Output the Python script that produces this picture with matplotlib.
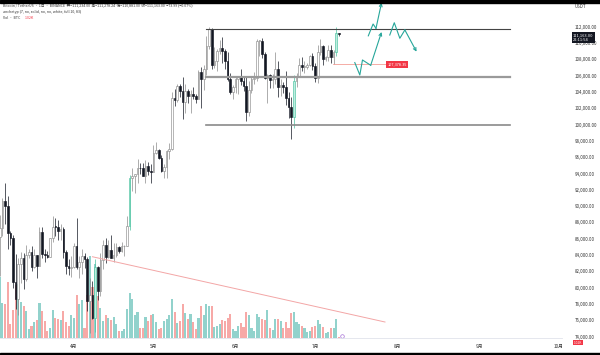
import numpy as np
import pandas as pd
import matplotlib
matplotlib.use('Agg')
import matplotlib.pyplot as plt
import matplotlib.transforms as mtransforms
from matplotlib.patches import Rectangle

plt.rcParams['font.family'] = ['Noto Sans CJK SC', 'DejaVu Sans']

# --- datos (velas diarias BTC/USDT, 4 mar - 10 jul) ---
start = '2025-03-04'
first_open = 86220
closes = [87280, 90600, 89960, 86740, 86150, 80730, 78600, 82930, 83700, 81100,
          83980, 84340, 82580, 84010, 82720, 86850, 84170, 84040, 83830, 86080,
          87500, 87420, 86900, 87230, 84350, 82650, 82390, 82550,
          85160, 82520, 83100, 83840, 83500, 78370, 79160, 76320, 82600, 79600,
          83400, 85280, 83760, 84590, 83650, 84030, 84950, 84470, 85060, 85170,
          87520, 93440, 93700, 93980, 94640, 94630, 93750, 94980, 94280, 94170,
          96490, 96910, 95950, 94310, 94750, 96820, 97030, 103240, 102970, 104700,
          104150, 102800, 104150, 103540, 103740, 103490, 103130, 106450, 105600, 106790,
          109650, 111700, 107300, 107800, 109000, 109440, 108980, 107800, 105640, 103980,
          104590,
          105640, 105830, 105400, 104700, 101500, 104300, 105600, 105730, 110260, 110260,
          108680, 105670, 106070, 105410, 105590, 106800, 104550, 104850, 104640, 103300,
          102120, 100960, 105400, 105900, 107290, 107040, 107100, 107350, 108380, 107140,
          105700, 108850, 109600, 107980, 108230, 109200, 108260, 108950, 111234, 111163]
highs = [88900, 91000, 92800, 91200, 86900, 86500, 84100, 83600, 84400, 84300,
         85300, 84700, 85100, 84750, 84050, 87450, 87450, 84800, 84550, 86100,
         88750, 88550, 88300, 87800, 87500, 84570, 83500, 83950,
         85500, 88500, 83900, 84720, 84250, 83800, 81250, 80850, 83580, 82700,
         84300, 85900, 86100, 85800, 86500, 85500, 85470, 85100, 85600, 85300,
         88850, 93800, 94700, 94000, 95750, 95300, 95350, 95600, 95450, 95200,
         97440, 97900, 96950, 96300, 95200, 96900, 97750, 104000, 104350, 104980,
         104960, 105820, 104950, 104350, 104200, 104550, 103700, 106660, 107100, 107320,
         110800, 111980, 111880, 109500, 109300, 110400, 110700, 109300, 108900, 106300,
         104900,
         105900, 105950, 106800, 106000, 105900, 105300, 105950, 106450, 110500, 110400,
         110600, 108950, 106200, 106200, 106150, 108950, 107770, 105550, 105250, 106550,
         104000, 103400, 106100, 106300, 108150, 108250, 107750, 107600, 108530, 108780,
         107550, 109760, 110500, 109780, 108450, 109700, 109700, 109200, 111999, 111278]
lows = [81500, 86300, 87800, 84700, 85300, 80000, 77450, 76600, 80600, 79900,
        80800, 83600, 82000, 82450, 81150, 82650, 83650, 83200, 83650, 83800,
        85550, 86300, 85860, 85800, 83600, 81650, 81550, 81300,
        82430, 82300, 81200, 81650, 82400, 77150, 74500, 76200, 74600, 78450,
        78950, 82250, 83000, 83700, 83600, 83100, 83730, 84300, 84400, 83950,
        85150, 87080, 91900, 91660, 92800, 93900, 93650, 92850, 93800, 92900,
        94130, 96350, 95750, 94150, 93500, 93400, 95800, 96900, 102300, 102800,
        103350, 100700, 101400, 102600, 101380, 103100, 102600, 103100, 102000, 104200,
        106100, 109300, 106800, 106900, 106600, 108700, 107600, 106800, 105300, 103700,
        103100,
        103900, 103700, 104900, 104100, 100400, 101100, 103900, 104950, 105300, 108350,
        108200, 105650, 102650, 104500, 104500, 104950, 103400, 103500, 103900, 102350,
        100800, 98200, 99600, 104600, 105900, 106600, 106300, 106850, 107220, 106730,
        105260, 105150, 108550, 107250, 107800, 107800, 107500, 107450, 108350, 110881]
volumes_k = [54, 31, 30, 50, 12, 25, 47, 48, 32, 28, 24, 8, 11, 14, 16, 31, 24, 15, 6, 9,
             25, 18, 17, 16, 24, 14, 11, 20,
             18, 38, 30, 34, 9, 38, 73, 45, 66, 37, 27, 15, 20, 18, 16, 19, 12, 6, 6, 8,
             26, 40, 35, 20, 23, 9, 9, 19, 15, 20,
             21, 14, 8, 9, 15, 17, 20, 35, 23, 13, 15, 30, 22, 17, 21, 14, 8, 18, 28, 20,
             30, 28, 28, 10, 11, 12, 16, 15, 18, 21, 8,
             6, 11, 13, 10, 23, 20, 9, 6, 21, 19, 17, 16, 25, 9, 7, 17, 17, 15, 9, 14,
             9, 22, 23, 14, 12, 11, 9, 5, 6, 10,
             11, 16, 12, 10, 4, 5, 9, 9, 17, 1]
highlight_days = ['2025-04-09', '2025-04-22', '2025-06-23', '2025-07-09']

base_day = pd.Timestamp('2025-04-01')
month_ticks = ['2025-04-01', '2025-05-01', '2025-06-01', '2025-07-01',
               '2025-08-01', '2025-09-01', '2025-10-01']
month_labels = ['4月', '5月', '6月', '7月', '8月', '9月', '10月']
price_ticks = list(range(74000, 114000, 2000))

# dibujos (x en días desde el 1 de abril)
range_levels = [111700, 105850, 100000]
range_colors = ['#444444', '#9a9a9a', '#8a8a8a']
range_widths = [0.8, 1.6, 1.2]
range_x = [49.8, 164.5]
trend_x = [7.0, 117.4]
trend_y = [83800, 75800]
alert_price = 107378.35
alert_x = [97.7, 118.1]
path_a_x = [106.0, 107.9, 108.9, 112.0, 116.1]
path_a_y = [107600, 106080, 107920, 107270, 111350]
path_b_x = [111.1, 112.9, 114.0, 116.1]
path_b_y = [110880, 112330, 111800, 114940]
path_c_x = [119.2, 120.9, 123.0, 124.9, 129.3]
path_c_y = [110980, 112490, 110580, 111600, 108940]

# --- preparación ---
dates = pd.date_range(start, periods=len(closes), freq='D')
xs = np.array((dates - base_day).days, dtype=float)
opens = [first_open] + closes[:-1]
hl = set(pd.to_datetime(highlight_days))

fig = plt.figure(figsize=(6, 3.55), dpi=100)
ax = fig.add_axes([0, 17 / 355, 562 / 600, 338 / 355])
axv = ax.twinx()
ax.set_zorder(axv.get_zorder() + 1)
ax.patch.set_visible(False)

# volumen
vol_colors = ['#92d2cc' if c >= o else '#f7a9a7' for o, c in zip(opens, closes)]
axv.bar(xs, volumes_k, width=0.8, color=vol_colors, linewidth=0)
axv.set_ylim(0, 300)
axv.set_yticks([])
for s in axv.spines.values():
    s.set_visible(False)

# velas
w = 0.62
for x, d, o, h, l, c in zip(xs, dates, opens, highs, lows, closes):
    if d in hl:
        fc, ec = '#bdeee0', '#4cc2a0'
    elif c >= o:
        fc, ec = 'white', '#8c8c8c'
    else:
        fc, ec = '#131722', '#131722'
    ax.vlines(x, l, h, color=ec, lw=0.5, zorder=2)
    body = max(abs(c - o), 90)
    ax.add_patch(Rectangle((x - w / 2, min(o, c)), w, body, facecolor=fc,
                           edgecolor=ec, lw=0.45, zorder=3))

# rango horizontal
for lev, col, lw in zip(range_levels, range_colors, range_widths):
    ax.plot(range_x, [lev, lev], color=col, lw=lw, zorder=4)

# línea de tendencia
ax.plot(trend_x, trend_y, color='#f3a6a6', lw=0.7, zorder=4)

# alerta
ax.plot(alert_x, [alert_price, alert_price], color='#f28b82', lw=0.5, zorder=4)
ax.text(alert_x[1] + 0.3, alert_price, f'{alert_price:,.2f}', fontsize=2.8,
        color='white', va='center', ha='left', zorder=6,
        bbox=dict(boxstyle='square,pad=0.35', fc='#f23645', ec='none'))

# flechas de proyección
teal = '#26a69a'
for px, py in [(path_a_x, path_a_y), (path_b_x, path_b_y), (path_c_x, path_c_y)]:
    ax.plot(px[:-1], py[:-1], color=teal, lw=0.8, zorder=5)
    ax.annotate('', xy=(px[-1], py[-1]), xytext=(px[-2], py[-2]),
                arrowprops=dict(arrowstyle='->', color=teal, lw=0.8,
                                mutation_scale=5, shrinkA=0, shrinkB=0),
                zorder=5)

# ejes
ax.set_xlim(-27.9, 184.2)
ax.set_ylim(73840, 115273)
ax.yaxis.tick_right()
ax.set_yticks(price_ticks)
ax.set_yticklabels([f'{v:,.2f}' for v in price_ticks])
ax.tick_params(axis='y', length=0, pad=9, labelsize=3.2, labelcolor='#333333')
mx = [(pd.Timestamp(m) - base_day).days for m in month_ticks]
ax.set_xticks(mx)
ax.set_xticklabels(month_labels)
ax.tick_params(axis='x', length=0, pad=4, labelsize=3.4, labelcolor='#333333')
for k, s in ax.spines.items():
    s.set_visible(k == 'bottom')
ax.spines['bottom'].set_color('#e0e3eb')
ax.spines['bottom'].set_linewidth(0.6)

# etiqueta de precio actual
tr = mtransforms.blended_transform_factory(fig.transFigure, ax.transData)
fig.text(573 / 600, closes[-1], f'{closes[-1]:,.2f}\n22:11:54', transform=tr,
         fontsize=2.9, color='white', va='top', ha='left', linespacing=1.1,
         bbox=dict(boxstyle='square,pad=0.3', fc='#131722', ec='none'))
fig.text(574 / 600, 1 - 342.5 / 355, '1.02K', fontsize=2.3,
         color='white', va='center', ha='left',
         bbox=dict(boxstyle='square,pad=0.2', fc='#f23645', ec='none'))
fig.text(575 / 600, 1 - 7 / 355, 'USDT', fontsize=3.2, color='#333333', va='center')

# icono de eventos
axv.plot(xs[-1] + 1.2, 2, marker='o', ms=2.6, mfc='white', mec='#a874d8', mew=0.5)

# cabecera
fig.text(3 / 600, 1 - 6 / 355,
         'Bitcoin / TetherUS · 1日 · BINANCE  开=111,234.00  高=111,278.24  '
         '低=110,881.00  收=111,163.00  −73.99 (−0.07%)',
         fontsize=2.6, color='#333333', va='center')
fig.text(3 / 600, 1 - 12 / 355, 'anchetyp (7, no, solid, no, no, white, full 10, 83)',
         fontsize=2.6, color='#333333', va='center')
fig.text(3 / 600, 1 - 18 / 355, 'Vol · BTC', fontsize=2.6, color='#333333', va='center')
fig.text(25 / 600, 1 - 18 / 355, '1.02K', fontsize=2.6, color='#f23645', va='center')

# marco negro arriba y abajo
fig.add_artist(Rectangle((0, 1 - 2.7 / 355), 1, 2.7 / 355, transform=fig.transFigure,
                         color='black', zorder=10))
fig.add_artist(Rectangle((0, 0), 1, 2.5 / 355, transform=fig.transFigure,
                         color='black', zorder=10))

fig.savefig('out.png', dpi=100, facecolor='white')
